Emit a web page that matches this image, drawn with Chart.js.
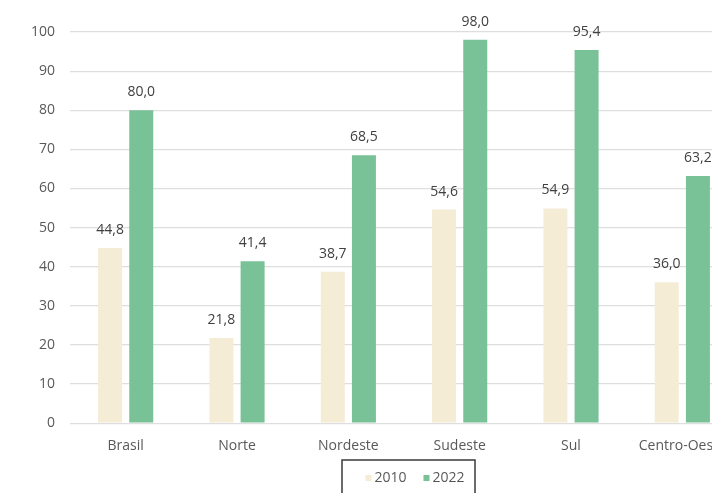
<!DOCTYPE html>
<html>
<head>
<meta charset="utf-8">
<script src="https://cdn.jsdelivr.net/npm/chart.js@4/dist/chart.umd.min.js"></script>
<style>
  html, body { margin: 0; padding: 0; background: #fff; overflow: hidden; }
  #wrap { position: relative; width: 744px; height: 493px; }
</style>
</head>
<body>
<div id="wrap"><canvas id="chart"></canvas></div>
<script>
// Daten
const categories = ["Brasil", "Norte", "Nordeste", "Sudeste", "Sul", "Centro-Oeste"];
const seriesNames = ["2010", "2022"];
const values2010 = [44.8, 21.8, 38.7, 54.6, 54.9, 36.0];
const values2022 = [80.0, 41.4, 68.5, 98.0, 95.4, 63.2];
const yMin = 0, yMax = 100, yStep = 10;

const FONT = "'Open Sans', sans-serif";
const colors = ["#f5ecd5", "#79c196"];

// Werte über den Balken (Komma als Dezimaltrenner)
const valueLabels = {
  id: "valueLabels",
  afterDatasetsDraw(chart) {
    const ctx = chart.ctx;
    ctx.save();
    ctx.font = "14px " + FONT;
    ctx.fillStyle = "#404040";
    ctx.textAlign = "center";
    ctx.textBaseline = "middle";
    chart.data.datasets.forEach((ds, i) => {
      chart.getDatasetMeta(i).data.forEach((bar, j) => {
        ctx.fillText(ds.data[j].toFixed(1).replace(".", ","), bar.x, bar.y - 18);
      });
    });
    ctx.restore();
  }
};

// Legende mit Rahmen, unten
const boxedLegend = {
  id: "boxedLegend",
  afterDraw(chart) {
    const ctx = chart.ctx;
    ctx.save();
    ctx.font = "14px " + FONT;
    const sq = 6, gap = 3, itemGap = 17;
    const widths = seriesNames.map(n => sq + gap + ctx.measureText(n).width);
    const total = widths.reduce((a, b) => a + b, 0) + itemGap * (widths.length - 1);
    const cx = 415, cy = 478;
    ctx.strokeStyle = "#3a3a3a";
    ctx.lineWidth = 1.5;
    ctx.strokeRect(342, 460, 133, 34);
    let x = cx - total / 2;
    ctx.textBaseline = "middle";
    ctx.textAlign = "left";
    seriesNames.forEach((n, i) => {
      ctx.fillStyle = chart.data.datasets[i].backgroundColor;
      ctx.fillRect(x, cy - sq / 2, sq, sq);
      ctx.fillStyle = "#595959";
      ctx.fillText(n, x + sq + gap, cy);
      x += widths[i] + itemGap;
    });
    ctx.restore();
  }
};

new Chart(document.getElementById("chart"), {
  type: "bar",
  data: {
    labels: categories,
    datasets: [
      { label: seriesNames[0], data: values2010, backgroundColor: colors[0] },
      { label: seriesNames[1], data: values2022, backgroundColor: colors[1] }
    ]
  },
  options: {
    responsive: true,
    maintainAspectRatio: false,
    animation: false,
    layout: { padding: { left: 16, right: 6, top: 32, bottom: 33 } },
    datasets: { bar: { categoryPercentage: 0.56, barPercentage: 0.77 } },
    plugins: {
      legend: { display: false },
      tooltip: { enabled: false }
    },
    scales: {
      x: {
        grid: { display: false },
        border: { display: false },
        ticks: { color: "#595959", font: { family: FONT, size: 14 }, padding: 6, maxRotation: 0 }
      },
      y: {
        min: yMin,
        max: yMax,
        ticks: { stepSize: yStep, color: "#595959", font: { family: FONT, size: 14 }, padding: 15 },
        grid: { color: "#dedede", lineWidth: 1.2, drawTicks: false },
        border: { display: false }
      }
    }
  },
  plugins: [valueLabels, boxedLegend]
});
</script>
</body>
</html>
